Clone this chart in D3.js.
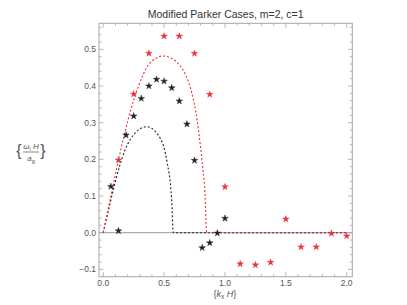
<!DOCTYPE html>
<html>
<head>
<meta charset="utf-8">
<script src="https://cdn.jsdelivr.net/npm/d3@7"></script>
<style>
  body { margin: 0; background: #fff; }
  text { font-family: "Liberation Sans", Arial, sans-serif; }
</style>
</head>
<body>
<script>
// star points (k_x H, omega_i H / a_g)
const redK = [0.125, 0.25, 0.375, 0.5, 0.625, 0.75, 0.875, 1.0, 1.125, 1.25, 1.375, 1.5, 1.625, 1.75, 1.875, 2.0];
const redW = [0.198, 0.378, 0.489, 0.536, 0.536, 0.489, 0.377, 0.125, -0.085, -0.088, -0.081, 0.037, -0.039, -0.039, -0.002, -0.009];
const blackK = [0.0625, 0.125, 0.1875, 0.25, 0.3125, 0.375, 0.4375, 0.5, 0.5625, 0.625, 0.6875, 0.75, 0.8125, 0.875, 0.9375, 1.0];
const blackW = [0.126, 0.005, 0.266, 0.318, 0.366, 0.40, 0.418, 0.413, 0.395, 0.359, 0.296, 0.197, -0.041, -0.028, -0.001, 0.039];

// dashed curves
const redCurveK = [0, 0.05, 0.125, 0.225, 0.29, 0.37, 0.43, 0.49, 0.55, 0.6, 0.67, 0.72, 0.76, 0.81, 0.835, 0.85, 2.0];
const redCurveW = [0, 0.08, 0.198, 0.334, 0.40, 0.457, 0.475, 0.482, 0.477, 0.466, 0.435, 0.39, 0.33, 0.2, 0.11, 0, 0];
const blackCurveK = [0, 0.04, 0.096, 0.178, 0.26, 0.357, 0.452, 0.521, 0.562, 0.575, 2.0];
const blackCurveW = [0, 0.057, 0.135, 0.225, 0.271, 0.289, 0.266, 0.198, 0.089, 0, 0];

const xTicks = [0, 0.5, 1.0, 1.5, 2.0];
const yTicks = [-0.1, 0, 0.1, 0.2, 0.3, 0.4, 0.5];

const W = 407, H = 305;
const svg = d3.select("body").append("svg").attr("width", W).attr("height", H);

const x = d3.scaleLinear().domain([-0.035, 2.046]).range([99, 352.3]);
const y = d3.scaleLinear().domain([-0.12, 0.571]).range([276.7, 23.3]);

const frameCol = "#a6a6a6";
const labCol = "#555";
const red = "#e8323a";

// zero line
svg.append("line")
    .attr("x1", x.range()[0]).attr("x2", x.range()[1])
    .attr("y1", y(0)).attr("y2", y(0))
    .attr("stroke", "#9a9a9a").attr("stroke-width", 1);

// frame
svg.append("rect")
    .attr("x", x.range()[0]).attr("y", y.range()[1])
    .attr("width", x.range()[1] - x.range()[0])
    .attr("height", y.range()[0] - y.range()[1])
    .attr("fill", "none").attr("stroke", frameCol).attr("stroke-width", 1);

// ticks on all four sides, pointing in
const g = svg.append("g").attr("stroke", frameCol).attr("stroke-width", 0.8);
const xMinor = d3.range(0, 2.0001, 0.1);
const yMinor = d3.range(-0.1, 0.5601, 0.02);
xMinor.forEach(function(v) {
    const major = xTicks.some(t => Math.abs(t - v) < 1e-6);
    const len = major ? 4.5 : 2.5;
    g.append("line").attr("x1", x(v)).attr("x2", x(v))
        .attr("y1", y.range()[0]).attr("y2", y.range()[0] - len);
    g.append("line").attr("x1", x(v)).attr("x2", x(v))
        .attr("y1", y.range()[1]).attr("y2", y.range()[1] + len);
});
yMinor.forEach(function(v) {
    const major = yTicks.some(t => Math.abs(t - v) < 1e-6);
    const len = major ? 4.5 : 2.5;
    g.append("line").attr("y1", y(v)).attr("y2", y(v))
        .attr("x1", x.range()[0]).attr("x2", x.range()[0] + len);
    g.append("line").attr("y1", y(v)).attr("y2", y(v))
        .attr("x1", x.range()[1]).attr("x2", x.range()[1] - len);
});

// tick labels
svg.selectAll(".xl").data(xTicks).enter().append("text")
    .attr("x", d => x(d)).attr("y", y.range()[0] + 9.5)
    .attr("text-anchor", "middle").attr("font-size", 8.5).attr("fill", labCol)
    .text(d => d3.format(".1f")(d));
svg.selectAll(".yl").data(yTicks).enter().append("text")
    .attr("x", x.range()[0] - 3).attr("y", d => y(d) + 3)
    .attr("text-anchor", "end").attr("font-size", 8.5).attr("fill", labCol)
    .text(d => d3.format(".1f")(d));

// curves
const line = d3.line().x(d => x(d[0])).y(d => y(d[1])).curve(d3.curveMonotoneX);
svg.append("path")
    .attr("d", line(blackCurveK.map((k, i) => [k, blackCurveW[i]])))
    .attr("fill", "none").attr("stroke", "#222").attr("stroke-width", 1.1)
    .attr("stroke-dasharray", "2,2");
svg.append("path")
    .attr("d", line(redCurveK.map((k, i) => [k, redCurveW[i]])))
    .attr("fill", "none").attr("stroke", red).attr("stroke-width", 1.1)
    .attr("stroke-dasharray", "2,2");

// stars
const star = d3.symbol().type(d3.symbolStar).size(14);
svg.selectAll(".bs").data(blackK).enter().append("path")
    .attr("d", star)
    .attr("transform", (d, i) => "translate(" + x(d) + "," + y(blackW[i]) + ")")
    .attr("fill", "#222").attr("stroke", "#222").attr("stroke-width", 0.4);
svg.selectAll(".rs").data(redK).enter().append("path")
    .attr("d", star)
    .attr("transform", (d, i) => "translate(" + x(d) + "," + y(redW[i]) + ")")
    .attr("fill", red).attr("stroke", red).attr("stroke-width", 0.4);

// title
svg.append("text").attr("x", (x.range()[0] + x.range()[1]) / 2).attr("y", 18)
    .attr("text-anchor", "middle").attr("font-size", 10.5).attr("fill", "#333")
    .text("Modified Parker Cases, m=2, c=1");

// x label
const xl = svg.append("text").attr("x", x(1.0)).attr("y", 297)
    .attr("text-anchor", "middle").attr("font-size", 9).attr("fill", labCol);
xl.append("tspan").text("{");
xl.append("tspan").attr("font-style", "italic").text("k");
xl.append("tspan").attr("font-size", 6.5).attr("dy", 1.5).text("x");
xl.append("tspan").attr("dy", -1.5).attr("font-style", "italic").text(" H");
xl.append("tspan").text("}");

// y label: {omega_i H / a_g}
const yl = svg.append("g").attr("transform", "translate(31,152)").attr("fill", labCol);
yl.append("text").attr("x", -12).attr("y", 4).attr("font-size", 16)
    .attr("text-anchor", "middle").text("{");
yl.append("text").attr("x", 12).attr("y", 4).attr("font-size", 16)
    .attr("text-anchor", "middle").text("}");
const num = yl.append("text").attr("x", 0).attr("y", -3).attr("text-anchor", "middle").attr("font-size", 8);
num.append("tspan").attr("font-style", "italic").text("ω");
num.append("tspan").attr("font-size", 5.5).attr("dy", 1.5).text("i");
num.append("tspan").attr("dy", -1.5).attr("font-style", "italic").text(" H");
yl.append("line").attr("x1", -8).attr("x2", 8).attr("y1", 0).attr("y2", 0)
    .attr("stroke", labCol).attr("stroke-width", 0.7);
const den = yl.append("text").attr("x", 0).attr("y", 9).attr("text-anchor", "middle").attr("font-size", 8);
den.append("tspan").attr("font-style", "italic").text("a");
den.append("tspan").attr("font-size", 5.5).attr("dy", 1.5).text("g");
</script>
</body>
</html>
